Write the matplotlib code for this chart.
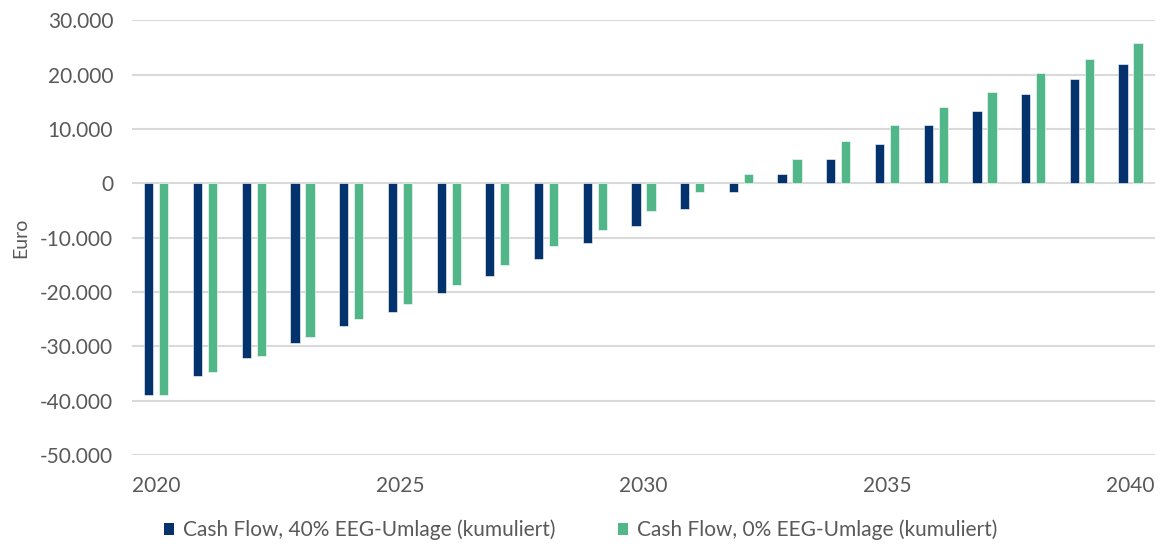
import numpy as np
import matplotlib.pyplot as plt
from matplotlib.patches import Patch
from matplotlib.ticker import FuncFormatter

years = list(range(2020, 2041))
cf_40 = [-38900, -35500, -32100, -29400, -26200, -23600, -20100, -17000, -13900, -10900,
         -7800, -4700, -1600, 1800, 4500, 7300, 10700, 13400, 16500, 19200, 22000]
cf_0 = [-38900, -34800, -31700, -28300, -24900, -22200, -18700, -15000, -11600, -8500,
        -5000, -1600, 1800, 4500, 7900, 10700, 14100, 16800, 20300, 23000, 25800]
labels = ["Cash Flow, 40% EEG-Umlage (kumuliert)", "Cash Flow, 0% EEG-Umlage (kumuliert)"]

NAVY = "#03326C"
GREEN = "#52B788"
GREY = "#595959"

plt.rcParams["font.family"] = ["Lato", "DejaVu Sans"]

fig = plt.figure(figsize=(11.61, 5.48), dpi=100)
ax = fig.add_axes([0.1137, 0.1697, 0.8811, 0.7929])

x = np.arange(len(years))
w = 0.19
off = 0.154
ax.bar(x - off, cf_40, width=w, color=NAVY, edgecolor="white", linewidth=0.4, zorder=3)
ax.bar(x + off, cf_0, width=w, color=GREEN, edgecolor="white", linewidth=0.4, zorder=3)

ax.set_xlim(-0.5, len(years) - 0.5)
ax.set_ylim(-50000, 30000)
ax.set_yticks(range(-50000, 30001, 10000))
ax.yaxis.set_major_formatter(FuncFormatter(lambda v, p: f"{int(v):,}".replace(",", ".")))
ax.set_xticks(x[::5])
ax.set_xticklabels([str(y) for y in years[::5]])

ax.grid(axis="y", color="#D9D9D9", linewidth=1.5, zorder=0)
for s in ax.spines.values():
    s.set_visible(False)
ax.tick_params(axis="both", length=0, labelsize=15, labelcolor=GREY)
ax.tick_params(axis="x", pad=15)
ax.tick_params(axis="y", pad=13.5)
ax.set_ylabel("Euro", fontsize=14, color=GREY, labelpad=8)

handles = [Patch(facecolor=NAVY), Patch(facecolor=GREEN)]
fig.legend(handles, labels, loc="center", bbox_to_anchor=(0.5, 0.033), ncol=2, frameon=False,
           fontsize=15, labelcolor=GREY, handlelength=0.5, handleheight=0.5,
           handletextpad=0.4, columnspacing=3.0)

fig.savefig("out.png", dpi=100)
